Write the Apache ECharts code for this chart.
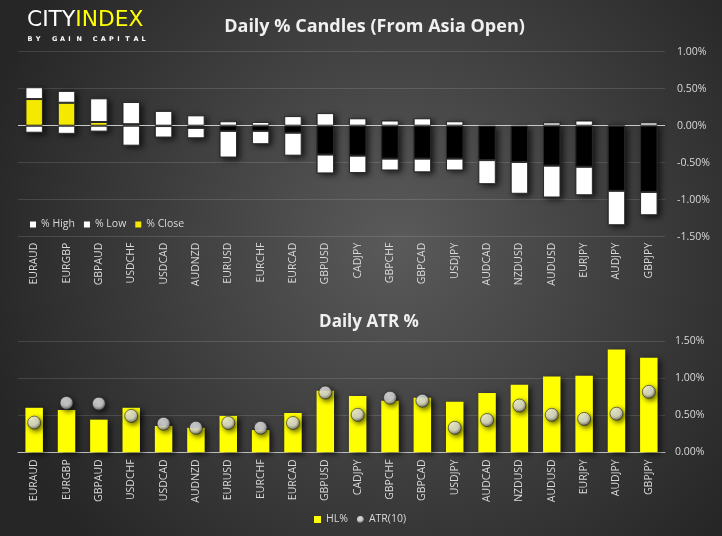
<!DOCTYPE html>
<html>
<head>
<meta charset="utf-8">
<script src="https://cdn.jsdelivr.net/npm/echarts@6/dist/echarts.min.js"></script>
<style>
html,body{margin:0;padding:0;background:#3a3a3a;}
#c{width:722px;height:536px;}
</style>
</head>
<body>
<div id="c"></div>
<script>
// ---- data ----
var categories = ['EURAUD','EURGBP','GBPAUD','USDCHF','USDCAD','AUDNZD','EURUSD','EURCHF','EURCAD','GBPUSD','CADJPY','GBPCHF','GBPCAD','USDJPY','AUDCAD','NZDUSD','AUDUSD','EURJPY','AUDJPY','GBPJPY'];
var highPct  = [0.52,0.47,0.37,0.32,0.20,0.14,0.06,0.05,0.13,0.17,0.10,0.07,0.10,0.06,0.00,0.00,0.045,0.07,0.02,0.045];
var closePct = [0.36,0.31,0.05,0.02,-0.005,-0.03,-0.07,-0.07,-0.095,-0.39,-0.405,-0.445,-0.445,-0.445,-0.465,-0.49,-0.54,-0.555,-0.88,-0.895];
var lowPct   = [-0.095,-0.11,-0.08,-0.27,-0.16,-0.17,-0.43,-0.25,-0.405,-0.645,-0.64,-0.605,-0.63,-0.605,-0.79,-0.92,-0.97,-0.94,-1.345,-1.21];
var hlPct    = [0.60,0.57,0.44,0.60,0.355,0.33,0.49,0.30,0.53,0.83,0.76,0.695,0.735,0.68,0.80,0.91,1.02,1.03,1.385,1.275];
var atrPct   = [0.40,0.665,0.655,0.49,0.385,0.33,0.395,0.33,0.395,0.805,0.505,0.735,0.695,0.33,0.435,0.63,0.505,0.45,0.52,0.815];
var topTicks = {min:-1.5, max:1.0, interval:0.5};
var botTicks = {min:0, max:1.5, interval:0.5};

// ---- derived stacked values ----
var closeData = closePct.map(function(v){
  return {value:v, itemStyle:{color: v >= 0 ? '#f5e900' : '#000000'}};
});
var upperWhite = highPct.map(function(h,i){ return +(h - Math.max(closePct[i],0)).toFixed(4); });
var lowerWhite = lowPct.map(function(l,i){ return +(l - Math.min(closePct[i],0)).toFixed(4); });

var FONT = '"Open Sans", "DejaVu Sans", sans-serif';
var labelColor = '#d9d9d9';
var gridLine = 'rgba(255,255,255,0.13)';
var pctFmt = function(v){ return v.toFixed(2) + '%'; };
var shadow = {shadowColor:'rgba(0,0,0,0.7)', shadowBlur:6, shadowOffsetX:3, shadowOffsetY:2};
function candleStyle(c){
  return {color:c, borderColor:'#2a2a2a', borderWidth:1};
}

// logo sub-line letters (spaced)
var subLine = 'BY GAIN CAPITAL';
var subGraphics = subLine.split('').map(function(ch, i){
  return {type:'text', x:27.5 + i*8.15, y:35.5, silent:true,
    style:{text:ch, fill:'#ffffff', fontSize:6.5, fontWeight:'bold', fontFamily:'"DejaVu Sans", sans-serif'}};
});

var chart = echarts.init(document.getElementById('c'), null, {renderer:'canvas'});
chart.setOption({
  backgroundColor: {type:'radial', x:0.55, y:0.45, r:0.8, colorStops:[
    {offset:0, color:'#5a5a5a'}, {offset:1, color:'#262626'}]},
  animation:false,
  textStyle:{fontFamily:FONT},
  graphic:[
    {type:'text', x:27, y:9, scaleX:1.1, style:{
      text:'{a|CITY}{b|INDEX}',
      rich:{
        a:{fill:'#ffffff', fontSize:22, fontFamily:'"DejaVu Sans Condensed","Liberation Sans Narrow","DejaVu Sans",sans-serif', fontWeight:'normal'},
        b:{fill:'#ffff00', fontSize:22, fontFamily:'"DejaVu Sans Condensed","Liberation Sans Narrow","DejaVu Sans",sans-serif', fontWeight:'normal'}
      }}},
    {type:'text', x:374.5, y:27, style:{text:'Daily % Candles (From Asia Open)', fill:'#f0f0f0', fontSize:18, fontWeight:'bold', fontFamily:FONT, textAlign:'center', textVerticalAlign:'middle'}},
    {type:'text', x:369, y:322.5, style:{text:'Daily ATR %', fill:'#f0f0f0', fontSize:17, fontWeight:'bold', fontFamily:FONT, textAlign:'center', textVerticalAlign:'middle'}}
  ].concat(subGraphics),
  legend:[
    {left:30, top:219, padding:0, itemWidth:6, itemHeight:6, itemGap:9,
      textStyle:{color:labelColor, fontSize:10.5, fontFamily:FONT},
      data:[
        {name:'% High', icon:'rect', itemStyle:{color:'#ffffff', borderWidth:0}},
        {name:'% Low', icon:'rect', itemStyle:{color:'#ffffff', borderWidth:0}},
        {name:'% Close', icon:'rect', itemStyle:{color:'#f5e900', borderWidth:0}}
      ]},
    {left:314, top:514, padding:0, itemWidth:7, itemHeight:7, itemGap:9,
      textStyle:{color:labelColor, fontSize:10.5, fontFamily:FONT},
      data:[
        {name:'HL%', icon:'rect', itemStyle:{color:'#ffff00', shadowBlur:0, shadowOffsetX:0, shadowOffsetY:0}},
        {name:'ATR(10)', icon:'circle', itemStyle:{shadowBlur:0, shadowOffsetX:0, shadowOffsetY:0, borderWidth:0}}
      ]}
  ],
  grid:[
    {left:18, right:57, top:51.7, height:185},
    {left:18, right:57, top:341, height:111.3}
  ],
  xAxis:[
    {type:'category', gridIndex:0, data:categories, axisLine:{show:false}, axisTick:{show:false},
      axisLabel:{rotate:90, color:labelColor, fontSize:10.5, fontFamily:FONT, margin:6, interval:0}},
    {type:'category', gridIndex:1, data:categories, axisLine:{show:true, lineStyle:{color:'#bfbfbf', width:1}}, axisTick:{show:false},
      axisLabel:{rotate:90, color:labelColor, fontSize:10.5, fontFamily:FONT, margin:7, interval:0}}
  ],
  yAxis:[
    {type:'value', gridIndex:0, position:'right', min:topTicks.min, max:topTicks.max, interval:topTicks.interval,
      axisLine:{show:false}, axisTick:{show:false},
      axisLabel:{formatter:pctFmt, color:labelColor, fontSize:10.5, fontFamily:FONT, margin:12},
      splitLine:{lineStyle:{color:gridLine, width:1}}},
    {type:'value', gridIndex:1, position:'right', min:botTicks.min, max:botTicks.max, interval:botTicks.interval,
      axisLine:{show:false}, axisTick:{show:false},
      axisLabel:{formatter:pctFmt, color:labelColor, fontSize:10.5, fontFamily:FONT, margin:10},
      splitLine:{lineStyle:{color:gridLine, width:1}}}
  ],
  series:[
    // shadow underlay of each full candle (high..low)
    {name:'shHigh', type:'bar', xAxisIndex:0, yAxisIndex:0, stack:'shadow', barWidth:'54%', barGap:'-100%',
      data:highPct, itemStyle:Object.assign({color:'#202020'}, shadow), z:1, silent:true},
    {name:'shLow', type:'bar', xAxisIndex:0, yAxisIndex:0, stack:'shadow', barWidth:'54%', barGap:'-100%',
      data:lowPct, itemStyle:Object.assign({color:'#202020'}, shadow), z:1, silent:true},
    {name:'% Close', type:'bar', xAxisIndex:0, yAxisIndex:0, stack:'candle', barWidth:'54%', barGap:'-100%',
      data:closeData, itemStyle:candleStyle('#f5e900'), z:3,
      markLine:{silent:true, symbol:'none', label:{show:false}, lineStyle:{color:'#c8c8c8', width:1, type:'solid'},
        data:[{yAxis:0}], z:2}},
    {name:'% High', type:'bar', xAxisIndex:0, yAxisIndex:0, stack:'candle', barWidth:'54%', barGap:'-100%',
      data:upperWhite, itemStyle:candleStyle('#ffffff'), z:3},
    {name:'% Low', type:'bar', xAxisIndex:0, yAxisIndex:0, stack:'candle', barWidth:'54%', barGap:'-100%',
      data:lowerWhite, itemStyle:candleStyle('#ffffff'), z:3},
    {name:'HL%', type:'bar', xAxisIndex:1, yAxisIndex:1, barWidth:'54%', data:hlPct,
      itemStyle:Object.assign({color:'#ffff00'}, shadow), z:3},
    {name:'ATR(10)', type:'scatter', xAxisIndex:1, yAxisIndex:1, data:atrPct, symbol:'circle', symbolSize:13, z:5,
      itemStyle:{
        color:{type:'radial', x:0.42, y:0.35, r:0.65, colorStops:[
          {offset:0, color:'#ffffff'}, {offset:0.55, color:'#ececec'}, {offset:0.85, color:'#9a9a9a'}, {offset:1, color:'#444444'}]},
        borderColor:'#2a2a2a', borderWidth:0.8,
        shadowColor:'rgba(0,0,0,0.75)', shadowBlur:5, shadowOffsetX:2, shadowOffsetY:2
      }}
  ]
});
</script>
</body>
</html>
